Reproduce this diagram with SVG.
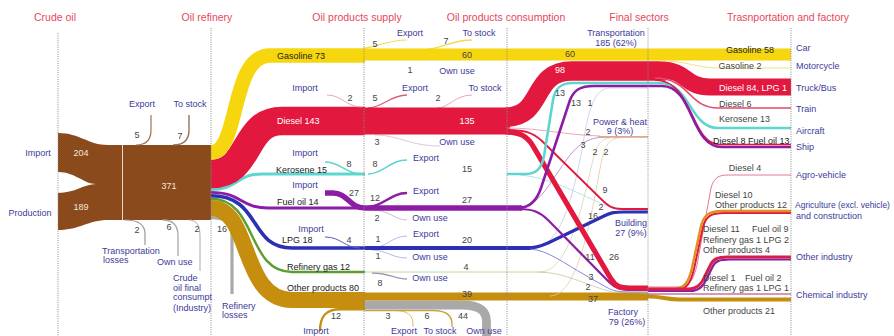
<svg xmlns="http://www.w3.org/2000/svg" width="894" height="336" viewBox="0 0 894 336">
<style>
.h{font-family:"Liberation Sans",Arial,sans-serif;font-size:10.5px;fill:#e6475c;text-anchor:middle}
.l{font-family:"Liberation Sans",Arial,sans-serif;font-size:9px;fill:#3d3a9a}
.n{font-family:"Liberation Sans",Arial,sans-serif;font-size:9px;fill:#444}
.w{fill:#fff}
.m{text-anchor:middle}
.b{fill:none}
.dl{stroke:#8a8a8a;stroke-width:1;stroke-dasharray:1 1.3;fill:none}
.y{stroke:#f6d60e}
.r{stroke:#e2183e}
.c{stroke:#5ed5cf}
.p{stroke:#8c1ca4}
.u{stroke:#2c30b4}
.g{stroke:#5c9e2e}
.o{stroke:#c58e0e}
.k{stroke:#a9a9a9}
</style>
<rect width="894" height="336" fill="#fff"/>

<g id="connectors" fill="none">
  <!-- crude oil -->
  <path d="M58,133 C80,133 88,145 108,145 L211,145 L211,220 L108,220 C88,220 80,230 58,230 L58,193 C75,193 84,184 96,184 C84,184 75,172 58,172 Z" fill="#8b4a1b"/>
  <line x1="122.5" y1="145" x2="122.5" y2="220" stroke="#ead8c6" stroke-width="1"/>
  <path d="M136,145 C147,145 151,139 151,130 L151,115" stroke="#9a7356" stroke-width="1.2"/>
  <path d="M173,145 C184,145 189,139 189,130 L189,115" stroke="#9a7356" stroke-width="1.4"/>
  <path d="M125,220 C139,220 145,225 145,234 L145,245" stroke="#999" stroke-width="1.2"/>
  <path d="M163,220 C174,220 178,226 178,236 L178,256" stroke="#aaa" stroke-width="1.3"/>
  <path d="M189,220 C197,220 200,226 200,236 L200,271" stroke="#aaa" stroke-width="1"/>
  <path d="M211,217.6 C226,217.6 232,223 232,234 L232,294" stroke="#a9a9a9" stroke-width="3.2"/>

  <!-- refinery outputs -->
  <path class="o" d="M211,208 C252,208 240,300 292,300 L365,300" stroke-width="16"/>
  <path class="g" d="M211,198.8 C258,198.8 246,272 292,272 L365,272" stroke-width="2.4"/>
  <path class="u" d="M211,195.8 C262,195.8 248,248 292,248 L365,248" stroke-width="3.6"/>
  <path class="p" d="M211,192.4 C242,192.4 240,208 268,208 L365,208" stroke-width="2.8"/>
  <path class="c" d="M211,189.5 C238,189.5 236,174 262,174 L365,174" stroke-width="3"/>
  <path class="r" d="M211,174 C252,174 242,121 282,121 L365,121" stroke-width="28.6"/>
  <path class="y" d="M211,152.5 C240,152.5 230,55.5 270,55.5 L365,55.5" stroke-width="14.6"/>

  <!-- supply adjustments -->
  <path d="M358,49 C372,49 386,40 407,40" stroke="#f0dc50" stroke-width="1.2"/>
  <path d="M428,49 C440,49 452,40 472,40" stroke="#f0dc50" stroke-width="1.4"/>
  <path d="M327,95 C342,95 346,107 362,107" stroke="#eaa8b8" stroke-width="1"/>
  <path d="M368,108 C382,108 390,95 407,95" stroke="#dc5a7c" stroke-width="1.3"/>
  <path d="M437,108 C449,108 455,95 472,95" stroke="#eaa8b8" stroke-width="1"/>
  <path d="M375,135 C398,135 410,146 440,146" stroke="#d8c0d0" stroke-width="0.9"/>
  <path d="M325,162 C341,162 345,174 362,174" stroke="#5ed5cf" stroke-width="1.6"/>
  <path d="M368,174 C383,174 390,160 407,160" stroke="#5ed5cf" stroke-width="1.6"/>
  <path d="M325,193 L333,193 C348,193 349,208 365,208" stroke="#8c1ca4" stroke-width="5.4"/>
  <path d="M368,207 C383,207 390,193 407,193" stroke="#8c1ca4" stroke-width="2.4"/>
  <path d="M372,210 C389,210 395,220 407,220" stroke="#c8b4d8" stroke-width="0.9"/>
  <path d="M325,237 C341,237 345,248 360,248" stroke="#5a5cc8" stroke-width="1"/>
  <path d="M372,248 C386,248 392,236 407,236" stroke="#b0b0e6" stroke-width="0.9"/>
  <path d="M372,250 C386,250 392,258 407,258" stroke="#b0b0e6" stroke-width="0.9"/>
  <path d="M372,273 C389,273 395,279 407,279" stroke="#9a9ab8" stroke-width="1.5"/>
  <path d="M320,331 C320,316 326,309.2 340,309.2 L365,309.2" class="o" stroke-width="2.4"/>
  <path d="M365,310.5 L395,310.5 C407,310.5 413,315 413,324 L413,327" stroke="#dcbc66" stroke-width="1"/>
  <path d="M365,310.5 L433,310.5 C446,310.5 452,315 452,324 L452,327" stroke="#c9a040" stroke-width="1.3"/>
  <path d="M365,305 L462,305 C480,305 486.5,311 486.5,322 L486.5,336" class="k" stroke-width="8.8"/>

  <!-- consumption bands -->
  <path class="o" d="M365,296.5 L648,296.5 C664,296.5 664,299.5 680,299.5 L791,299.5" stroke-width="4.2"/>
  <path class="o" d="M365,296.5 L648,296.5" stroke-width="7.8"/>
  <path d="M365,272 L545,272" stroke="#b8d49a" stroke-width="0.9"/>
  <path class="u" d="M365,248 L532,248" stroke-width="4"/>
  <path class="p" d="M365,208 L522,208" stroke-width="5.4"/>
  <path class="y" d="M365,54.5 L791,54.5" stroke-width="12"/>
  <path class="r" d="M365,121 L510,121" stroke-width="27"/>

  <!-- faint lines to power & heat / transport -->
  <path d="M538,272 C565,272 585,285 612,292 L648,293" stroke="#c8c8a8" stroke-width="0.8"/>
  <path d="M540,272 C575,272 588,170 596,150 C600,140 605,137 620,137" stroke="#d8d4b0" stroke-width="0.8"/>
  <path d="M550,296 C585,296 596,175 604,152 C608,141 612,137 628,137" stroke="#e2cc98" stroke-width="0.8"/>
  <path d="M532,248 C560,248 572,200 582,150 C588,110 594,88 610,88 L648,88" stroke="#c6c6ee" stroke-width="0.8"/>
  <path d="M520,175 C555,178 585,198 615,209 L648,210.5" stroke="#9ee0e0" stroke-width="0.8"/>
  <path d="M522,207 C545,205 560,160 580,145 C590,138 598,137 610,137" stroke="#b07ac0" stroke-width="0.8"/>
  <path d="M507,128 C540,128 565,135 600,136" stroke="#e890a8" stroke-width="0.8"/>
  <path d="M598,136.8 L648,136.8" stroke="#dca898" stroke-width="1.8"/>

  <!-- building & factory flows -->
  <path class="u" d="M528,248 C537,248 541,246 548,243 L604,216 C611,212.5 615,212 624,212 L648,212" stroke-width="3.2"/>
  <path d="M530,249 C548,250 565,264 585,275 L606,287 C613,291 618,292 632,292 L648,292" stroke="#7a7ad8" stroke-width="0.9"/>
  <path class="p" d="M518,209 C533,209 540,212 548,220 L609,282 C615,288 620,290 632,290 L648,290" stroke-width="2.2"/>
  <path class="r" d="M505,130 C525,130 532,132 542,141 L600,198 C608,206 612,209 622,209 L648,209" stroke-width="1.8"/>
  <path class="r" d="M505,132 C520,132 527,136 533,146 L611,279 C616,287 620,288 630,288 L648,288" stroke-width="5.2"/>

  <!-- transportation -->
  <path class="r" d="M505,117.3 C545,117.3 530,71 572,71 L666,71" stroke-width="19.6"/>
  <path class="r" d="M660,70 C688,70 684,87 710,87 L791,87" stroke-width="17"/>
  <path d="M655,78 C690,78 688,108 718,108 L791,108" stroke="#e04a6c" stroke-width="1.5"/>
  <path class="c" d="M507,174 L526,174 C538,174 542,166 544,156 L553,100 C555,89 560,83 572,83 L660,83 C690,83 690,128 718,128 L791,128" stroke-width="2.6"/>
  <path class="r" d="M655,80 C694,80 690,144.5 720,144.5 L791,144.5" stroke-width="1.6"/>
  <path class="p" d="M507,208 L518,208 C530,208 537,200 541,188 L570,100 C574,90 580,86 594,86 L662,86 C694,86 690,147 722,147 L791,147" stroke-width="2.6"/>
  <path d="M660,61 C690,61 694,68 720,68 L791,68" stroke="#f2e27a" stroke-width="1"/>

  <!-- factory split -->
  <path d="M648,294 L791,294" stroke="#b0306a" stroke-width="1"/>
  <path d="M648,287 L678,287 C690,287 694,278 697,265 L711,188 C714,178 718,175 728,175 L791,175" stroke="#e8749a" stroke-width="1"/>
  <path d="M648,290.5 L674,290.5 C688,290.5 691,281 694,269 L703,227 C706,216 711,213 724,213 L791,213" class="r" stroke-width="2"/>
  <path d="M648,289 L672,289 C686,289 689,280 692,268 L701,226 C704,215 709,211 722,211 L791,211" stroke="#e0901c" stroke-width="2.4"/>
  <path d="M648,291 L690,291 C700,291 704,285 707,278 L712,268 C715,261 719,259.5 730,259.5 L791,259.5" class="p" stroke-width="2.2"/>
  <path d="M648,289 L688,289 C698,289 702,283 705,276 L710,266 C713,259 717,257 728,257 L791,257" stroke="#d81f4a" stroke-width="3"/>
</g>

<g id="axes">
  <line class="dl" x1="58" y1="33" x2="58" y2="336"/>
  <line class="dl" x1="211" y1="28" x2="211" y2="336"/>
  <line class="dl" x1="364" y1="28" x2="364" y2="336"/>
  <line class="dl" x1="507" y1="28" x2="507" y2="336"/>
  <line class="dl" x1="648" y1="28" x2="648" y2="336"/>
  <line class="dl" x1="791" y1="28" x2="791" y2="336"/>
</g>

<g id="crude-oil">
  <text class="h" x="55" y="21">Crude oil</text>
  <text class="l m" x="38" y="156">Import</text>
  <text class="l m" x="30" y="216">Production</text>
  <text class="n m" x="81" y="156" style="fill:#f3e6d8">204</text>
  <text class="n m" x="81" y="210" style="fill:#f3e6d8">189</text>
</g>

<g id="oil-refinery">
  <text class="h" x="207" y="21">Oil refinery</text>
  <text class="n m" x="169" y="189" style="fill:#f3e6d8">371</text>
  <text class="l m" x="142" y="107">Export</text>
  <text class="l m" x="190" y="107">To stock</text>
  <text class="n m" x="137" y="138">5</text>
  <text class="n m" x="180" y="139">7</text>
  <text class="n m" x="137" y="233">2</text>
  <text class="n m" x="169" y="230">6</text>
  <text class="n m" x="197" y="232">2</text>
  <text class="n m" x="222" y="232">16</text>
  <text class="l" x="102" y="254">Transportation</text>
  <text class="l" x="103" y="263">losses</text>
  <text class="l" x="157" y="265">Own use</text>
  <text class="l" x="173" y="281">Crude</text>
  <text class="l" x="173" y="291">oil final</text>
  <text class="l" x="173" y="300">consumpt</text>
  <text class="l" x="173" y="311">(Industry)</text>
  <text class="l" x="222" y="309">Refinery</text>
  <text class="l" x="222" y="318">losses</text>
</g>

<g id="oil-products-supply">
  <text class="h" x="357" y="21">Oil products supply</text>
  <text class="n" x="277" y="59" style="fill:#222">Gasoline 73</text>
  <text class="n w" x="277" y="124">Diesel 143</text>
  <text class="n" x="276" y="173" style="fill:#222">Kerosene 15</text>
  <text class="n" x="277" y="205" style="fill:#222">Fuel oil 14</text>
  <text class="n" x="282" y="243" style="fill:#222">LPG 18</text>
  <text class="n" x="287" y="270" style="fill:#222">Refinery gas 12</text>
  <text class="n" x="287" y="291" style="fill:#222">Other products  80</text>
  <text class="n m" x="375" y="47">5</text>
  <text class="l m" x="410" y="36">Export</text>
  <text class="n m" x="446" y="44">7</text>
  <text class="l m" x="479" y="36">To stock</text>
  <text class="n m" x="410" y="73">1</text>
  <text class="l m" x="457" y="74">Own use</text>
  <text class="l m" x="305" y="91">Import</text>
  <text class="n m" x="350" y="101">2</text>
  <text class="n m" x="375" y="101">5</text>
  <text class="l m" x="415" y="91">Export</text>
  <text class="n m" x="438" y="101">2</text>
  <text class="l m" x="485" y="91">To stock</text>
  <text class="n m" x="377" y="145">3</text>
  <text class="l m" x="457" y="145">Own use</text>
  <text class="l m" x="305" y="156">Import</text>
  <text class="n m" x="349" y="167">8</text>
  <text class="n m" x="375" y="167">8</text>
  <text class="l m" x="426" y="161">Export</text>
  <text class="l m" x="305" y="188">Import</text>
  <text class="n m" x="354" y="196">27</text>
  <text class="n m" x="375" y="201">12</text>
  <text class="l m" x="426" y="194">Export</text>
  <text class="n m" x="377" y="221">2</text>
  <text class="l m" x="430" y="221">Own use</text>
  <text class="l m" x="311" y="232">Import</text>
  <text class="n m" x="349" y="243">4</text>
  <text class="n m" x="378" y="242">1</text>
  <text class="l m" x="426" y="237">Export</text>
  <text class="n m" x="378" y="259">1</text>
  <text class="l m" x="430" y="260">Own use</text>
  <text class="n m" x="380" y="286">8</text>
  <text class="l m" x="430" y="281">Own use</text>
  <text class="n m" x="336" y="319">12</text>
  <text class="n m" x="388" y="319">3</text>
  <text class="n m" x="427" y="319">6</text>
  <text class="n m" x="463" y="319">44</text>
  <text class="l m" x="316" y="334">Import</text>
  <text class="l m" x="404" y="334">Export</text>
  <text class="l m" x="440" y="334">To stock</text>
  <text class="l m" x="484" y="334">Own use</text>
</g>

<g id="oil-products-consumption">
  <text class="h" x="506" y="21">Oil products consumption</text>
  <text class="n m" x="467" y="58">60</text>
  <text class="n m w" x="467" y="124">135</text>
  <text class="n m" x="467" y="172">15</text>
  <text class="n m" x="467" y="203">27</text>
  <text class="n m" x="467" y="243">20</text>
  <text class="n m" x="466" y="270">4</text>
  <text class="n m" x="467" y="297">39</text>
  <text class="n m" x="570" y="57">60</text>
  <text class="n m w" x="560" y="73">98</text>
  <text class="n m" x="560" y="96">13</text>
  <text class="n m" x="576" y="106">13</text>
  <text class="n m" x="590" y="106">1</text>
  <text class="n m" x="588" y="135">2</text>
  <text class="n m" x="583" y="148">3</text>
  <text class="n m" x="595" y="155">2</text>
  <text class="n m" x="606" y="155">2</text>
  <text class="n m" x="605" y="193">9</text>
  <text class="n m" x="601" y="210">2</text>
  <text class="n m" x="593" y="219">16</text>
  <text class="n m" x="590" y="260">11</text>
  <text class="n m" x="614" y="260">26</text>
  <text class="n m" x="591" y="280">3</text>
  <text class="n m" x="588" y="290">2</text>
  <text class="n m" x="593" y="302">37</text>
</g>

<g id="final-sectors">
  <text class="h" x="639" y="21">Final sectors</text>
  <text class="l m" x="616" y="36">Transportation</text>
  <text class="l m" x="616" y="46">185 (62%)</text>
  <text class="l m" x="620" y="125">Power &amp; heat</text>
  <text class="l m" x="620" y="134">9 (3%)</text>
  <text class="l m" x="631" y="226">Building</text>
  <text class="l m" x="631" y="236">27 (9%)</text>
  <text class="l m" x="623" y="315">Factory</text>
  <text class="l m" x="627" y="325">79 (26%)</text>
</g>

<g id="transportation-and-factory">
  <text class="h" x="788" y="21">Trasnportation and factory</text>
  <text class="n m" x="750" y="53" style="fill:#222">Gasoline 58</text>
  <text class="n m" x="740" y="69">Gasoline  2</text>
  <text class="n m w" x="753" y="91">Diesel 84, LPG 1</text>
  <text class="n" x="719" y="107">Diesel 6</text>
  <text class="n" x="719" y="122">Kerosene 13</text>
  <text class="n" x="713" y="144" style="fill:#222">Diesel 8 Fuel oil 13</text>
  <text class="n m" x="745" y="171">Diesel 4</text>
  <text class="n" x="715" y="198">Diesel 10</text>
  <text class="n" x="715" y="208">Other products 12</text>
  <text class="n" x="703" y="232">Diesel 11</text>
  <text class="n" x="752" y="232">Fuel oil 9</text>
  <text class="n" x="703" y="243">Refinery gas 1  LPG 2</text>
  <text class="n" x="703" y="253">Other products 4</text>
  <text class="n" x="703" y="281">Diesel 1</text>
  <text class="n" x="745" y="281">Fuel oil 2</text>
  <text class="n" x="703" y="291">Refinery gas 1  LPG 1</text>
  <text class="n" x="703" y="314">Other products 21</text>
  <text class="l" x="796" y="51">Car</text>
  <text class="l" x="796" y="69">Motorcycle</text>
  <text class="l" x="796" y="91">Truck/Bus</text>
  <text class="l" x="796" y="112">Train</text>
  <text class="l" x="796" y="134">Aircraft</text>
  <text class="l" x="796" y="150">Ship</text>
  <text class="l" x="796" y="178">Agro-vehicle</text>
  <text class="l" x="795" y="208" style="font-size:8.5px">Agriculture (excl. vehicle)</text>
  <text class="l" x="796" y="219">and construction</text>
  <text class="l" x="796" y="260">Other industry</text>
  <text class="l" x="796" y="298">Chemical industry</text>
</g>
</svg>
